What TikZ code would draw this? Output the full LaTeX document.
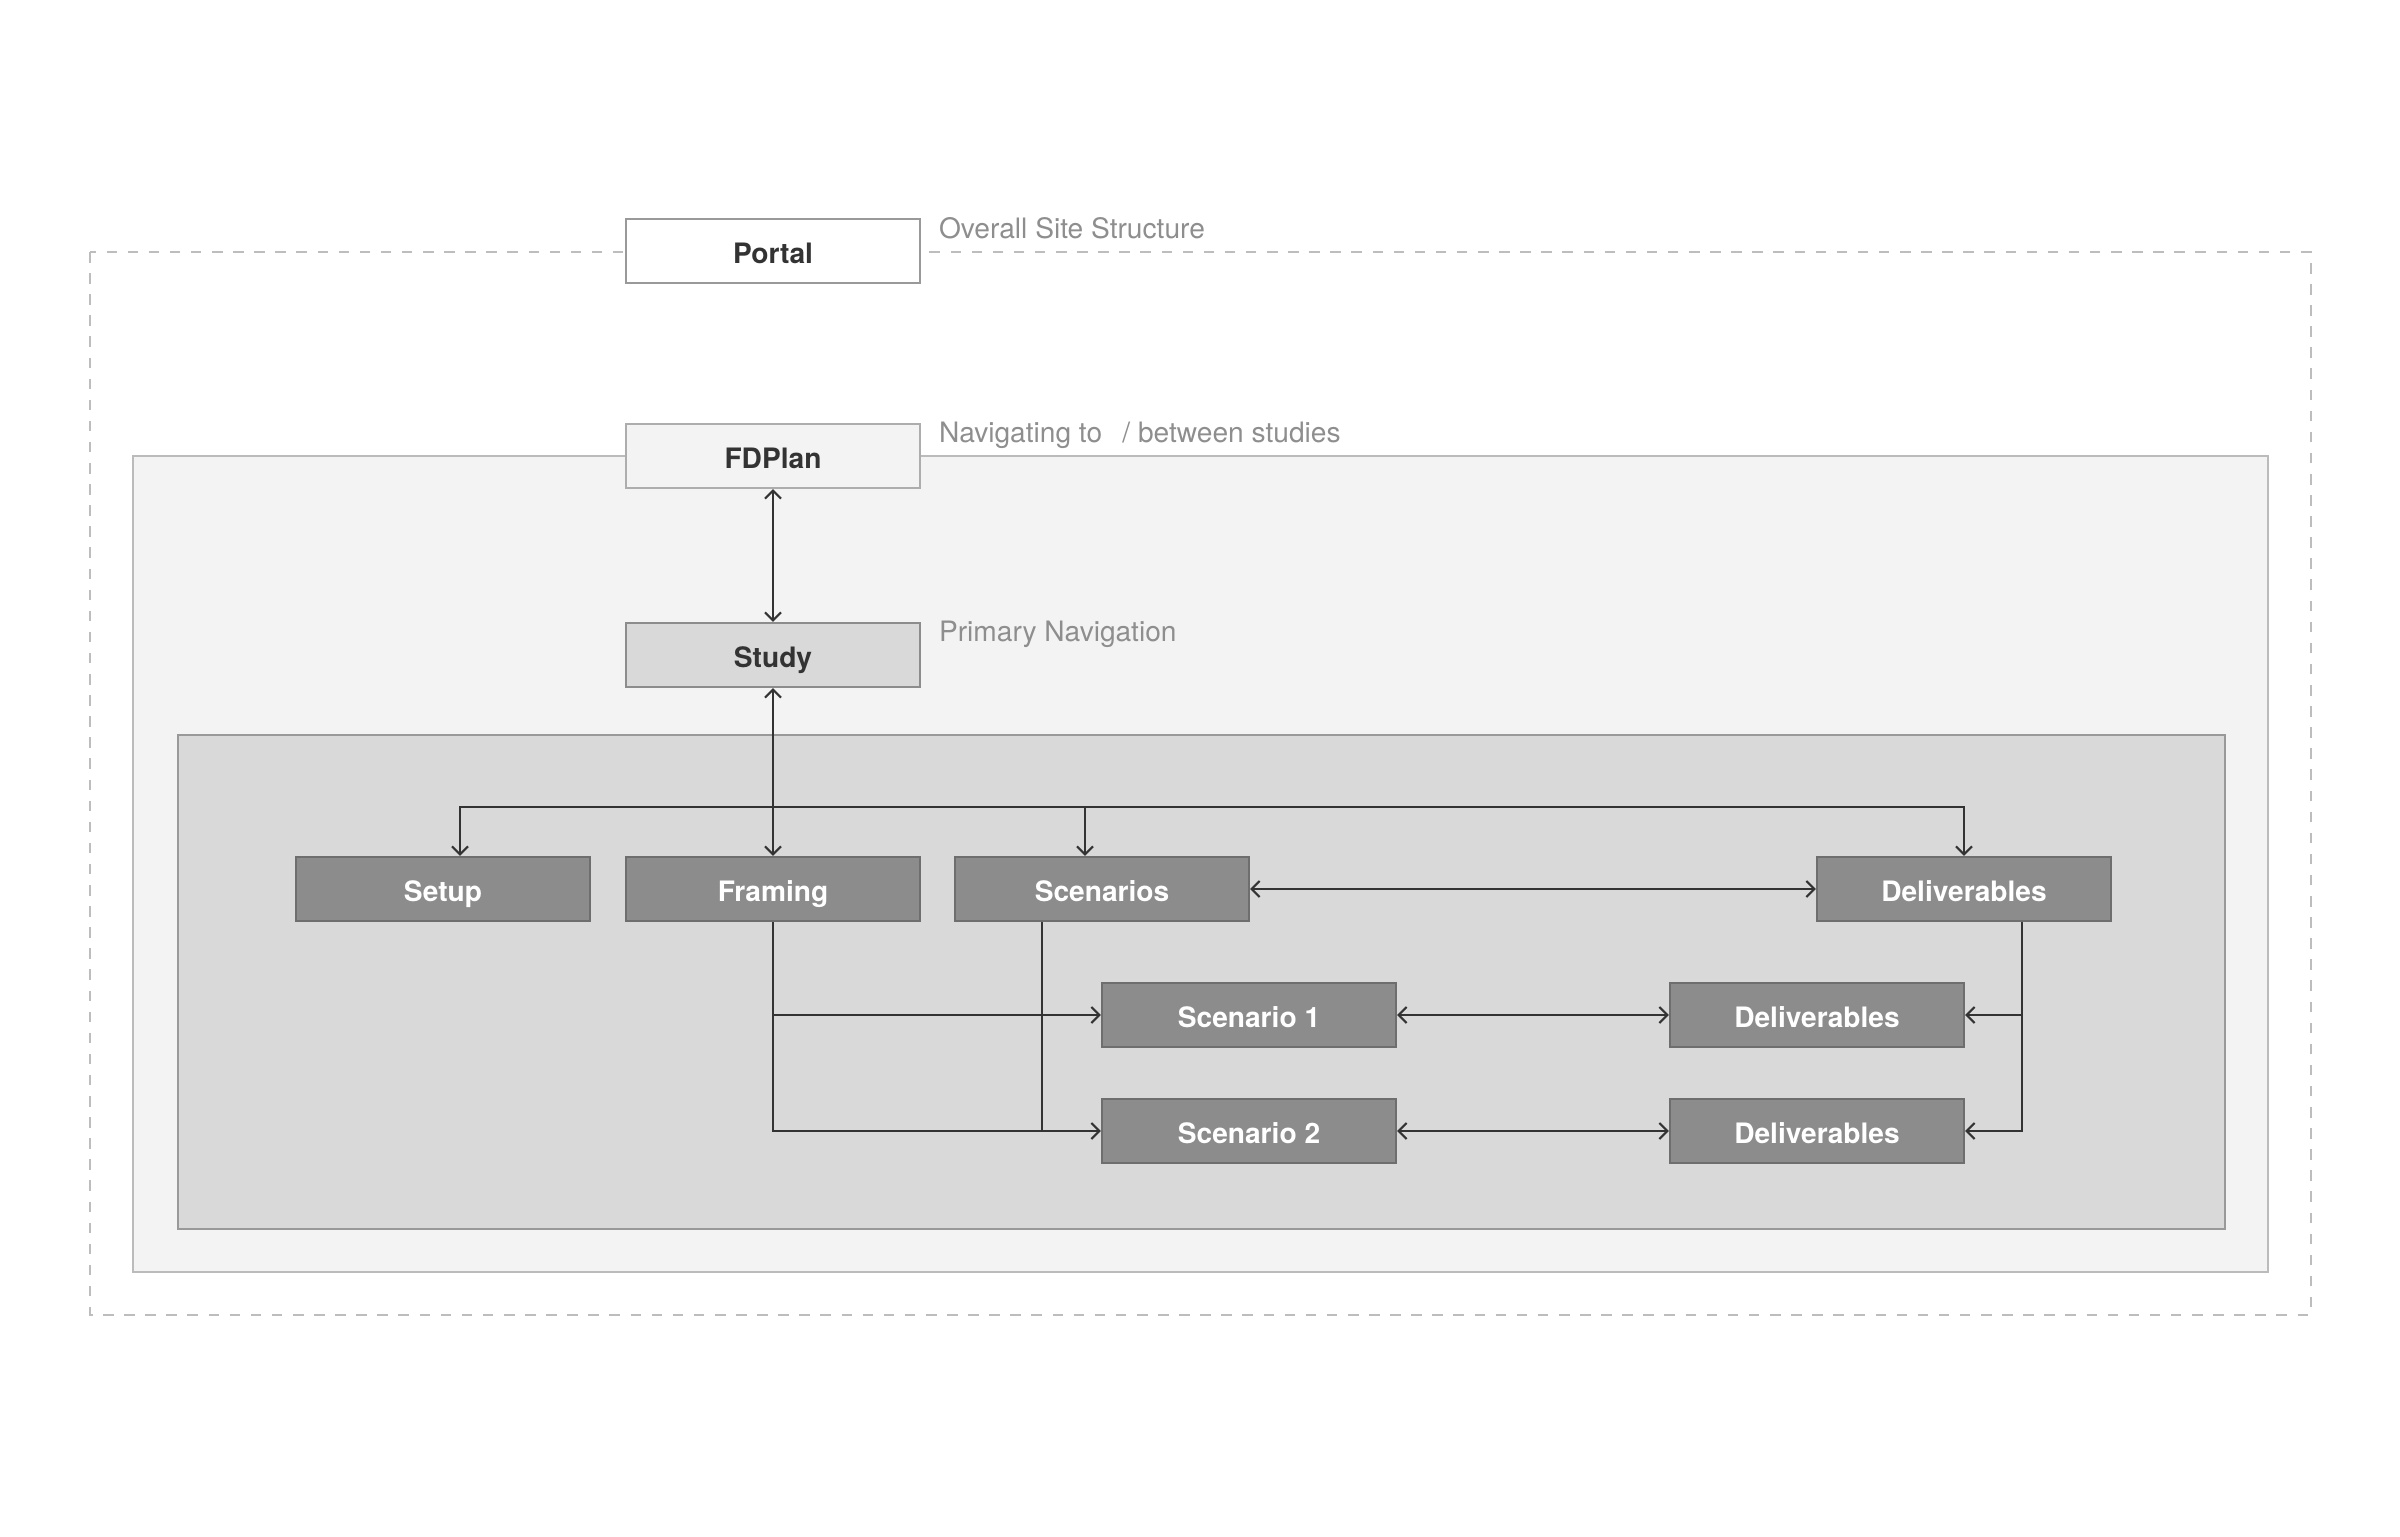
\documentclass[tikz,border=0pt]{standalone}
\usepackage{fontspec}
\setmainfont{TeX Gyre Heros}
\usepackage{xcolor}
\usepackage{tikz}
\usetikzlibrary{arrows.meta}
\usetikzlibrary{calc}
\usetikzlibrary{positioning}
\definecolor{ink}{HTML}{333333}
\definecolor{note}{HTML}{8E8E8E}
\definecolor{dashgray}{HTML}{BDBDBD}
\definecolor{pale}{HTML}{F3F3F3}
\definecolor{paleline}{HTML}{BBBBBB}
\definecolor{mid}{HTML}{D9D9D9}
\definecolor{midline}{HTML}{999999}
\definecolor{dark}{HTML}{8C8C8C}
\definecolor{darkline}{HTML}{6E6E6E}

\begin{document}
\begin{tikzpicture}[x=0.01cm,y=-0.01cm,>={Straight Barb[length=0.8mm,width=1.6mm]},semithick]
	\tikzstyle{page}=[draw, rectangle, minimum width=2.94cm, minimum height=0.64cm, inner sep=0pt, text height=7pt, text depth=0pt, font=\fontsize{8}{9}\selectfont\bfseries, text=ink]
	\tikzstyle{top}=[page, fill=white, draw=midline]
	\tikzstyle{plan}=[page, fill=pale, draw=midline!80]
	\tikzstyle{study}=[page, fill=mid, draw=dark]
	\tikzstyle{sect}=[page, fill=dark, draw=darkline, text=white]
	\tikzstyle{tag}=[anchor=west, inner sep=0pt, font=\fontsize{8}{9}\selectfont, text=note]
	\tikzstyle{link}=[draw=ink, line width=0.6pt]

	\useasboundingbox (0,0) rectangle (2400,1536);
	\draw[draw=dashgray, dashed, line width=0.6pt] (90,252) rectangle (2311,1315);
	\draw[draw=paleline, fill=pale, line width=0.6pt] (133,456) rectangle (2268,1272);
	\draw[draw=midline, fill=mid, line width=0.6pt] (178,735) rectangle (2225,1229);

	\node[top]   (portal)    at (773,251)  {Portal};
	\node[plan]  (fdplan)    at (773,456)  {FDPlan};
	\node[study] (study)     at (773,655)  {Study};
	\node[sect]  (setup)     at (443,889)  {Setup};
	\node[sect]  (framing)   at (773,889)  {Framing};
	\node[sect]  (scenarios) at (1102,889) {Scenarios};
	\node[sect]  (deliv)     at (1964,889) {Deliverables};
	\node[sect]  (scenA)     at (1249,1015) {Scenario 1};
	\node[sect]  (delivA)    at (1817,1015) {Deliverables};
	\node[sect]  (scenB)     at (1249,1131) {Scenario 2};
	\node[sect]  (delivB)    at (1817,1131) {Deliverables};

	\node[tag] (overall) at (938,228) {Overall Site Structure};
	\node[tag] (navto)   at (938,435) {Navigating to \ \,/ between studies};
	\node[tag] (primary) at (938,634) {Primary Navigation};

	\coordinate (bus) at (773,807);
	\coordinate (fdown) at ($(scenarios.south)+(-0.6cm,0)$);
	\coordinate (ddown) at ($(deliv.south)+(0.58cm,0)$);

	\path[link, <->]
		(fdplan) edge (study)
		(study) edge (framing)
		(scenarios) edge (deliv)
		(scenA) edge (delivA)
		(scenB) edge (delivB);
	\draw[link, ->] (bus) -| ($(setup.north)+(0.17cm,0)$);
	\draw[link, ->] (bus) -| ($(scenarios.north)+(-0.17cm,0)$);
	\draw[link, ->] (bus) -| (deliv.north);
	\draw[link, ->] (framing.south) |- (scenB.west);
	\draw[link, ->] (framing.south |- scenA.west) -- (scenA.west);
	\draw[link] (fdown) -- (fdown |- scenB.west);
	\draw[link, ->] (ddown) |- (delivB.east);
	\draw[link, ->] (ddown |- delivA.east) -- (delivA.east);
\end{tikzpicture}
\end{document}
